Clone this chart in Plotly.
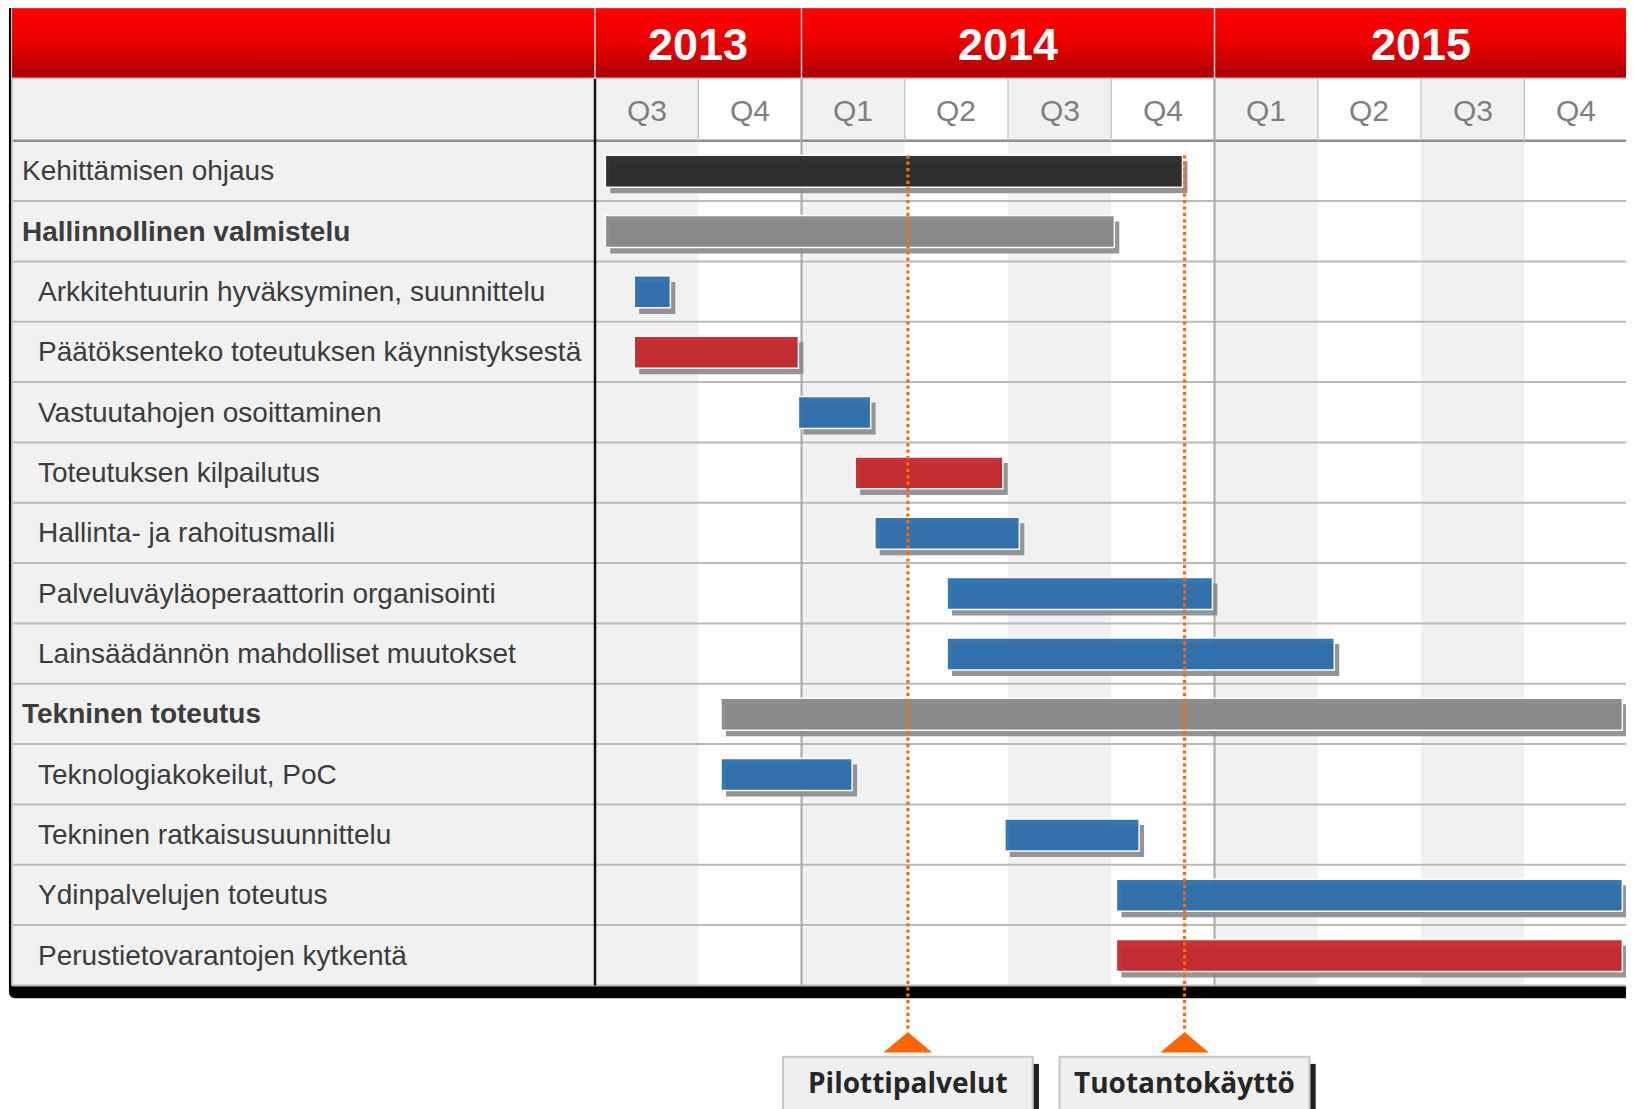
import plotly.graph_objects as go

# ---------------- data ----------------
tasks = [
    "Kehittämisen ohjaus",
    "Hallinnollinen valmistelu",
    "Arkkitehtuurin hyväksyminen, suunnittelu",
    "Päätöksenteko toteutuksen käynnistyksestä",
    "Vastuutahojen osoittaminen",
    "Toteutuksen kilpailutus",
    "Hallinta- ja rahoitusmalli",
    "Palveluväyläoperaattorin organisointi",
    "Lainsäädännön mahdolliset muutokset",
    "Tekninen toteutus",
    "Teknologiakokeilut, PoC",
    "Tekninen ratkaisusuunnittelu",
    "Ydinpalvelujen toteutus",
    "Perustietovarantojen kytkentä",
]
task_level = ["main", "group", "sub", "sub", "sub", "sub", "sub", "sub", "sub",
              "group", "sub", "sub", "sub", "sub"]
task_kind = ["steering", "phase", "work", "decision", "work", "decision", "work",
             "work", "work", "phase", "work", "work", "work", "decision"]
# start / end measured in quarters from the start of Q3 2013
task_start = [0.10, 0.10, 0.38, 0.38, 1.97, 2.52, 2.71, 3.41, 3.41, 1.22, 1.22, 3.97, 5.05, 5.05]
task_end = [5.69, 5.03, 0.73, 1.97, 2.67, 3.95, 4.11, 5.98, 7.16, 9.95, 2.49, 5.27, 9.95, 9.95]

years = ["2013", "2014", "2015"]
year_quarters = [2, 4, 4]
quarters = ["Q3", "Q4", "Q1", "Q2", "Q3", "Q4", "Q1", "Q2", "Q3", "Q4"]

milestones = ["Pilottipalvelut", "Tuotantokäyttö"]
milestone_at = [3.03, 5.71]

# ---------------- style ----------------
KIND_COLOR = {"steering": "#2a2a2a", "phase": "#898989",
              "work": "#2c6fad", "decision": "#c4282b"}
SANS = "Liberation Sans, Arial, sans-serif"
BOXFONT = "Open Sans, Liberation Sans, sans-serif"
LABEL_COLOR = "#3c3c3c"

n = len(tasks)
NQ = len(quarters)
LEFT = -5.646
HDR_TOP = -2.194
Q_TOP = -1.036
BAR_W = 0.53
SH_DX, SH_DY = 0.048, 0.10

# page is offset by the 8px body margin: map page pixels to data units
QPX, RPX = 103.25, 60.34      # pixels per quarter / per row
X0PX, Y0PX = 595.0, 140.7     # page pixel of quarter 0 / row 0
FIG_W, FIG_H = 1626, 1101
xr = [(8 - X0PX) / QPX, (8 + FIG_W - X0PX) / QPX]
yr = [(8 + FIG_H - Y0PX) / RPX, (8 - Y0PX) / RPX]

shapes = []


def rect(x0, x1, y0, y1, fill, line=None, lw=0, layer="below"):
    shapes.append(dict(type="rect", xref="x", yref="y", x0=x0, x1=x1, y0=y0, y1=y1,
                       fillcolor=fill, line=dict(color=line or fill, width=lw), layer=layer))


def line(x0, x1, y0, y1, color, w, layer="below", dash="solid"):
    shapes.append(dict(type="line", xref="x", yref="y", x0=x0, x1=x1, y0=y0, y1=y1,
                       line=dict(color=color, width=w, dash=dash), layer=layer))


# black drop-shadow frame with rounded corners
fx0, fx1, fy0, fy1 = -5.676, 10.4, -2.262, 14.21
rx, ry = 0.06, 0.11
shapes.append(dict(
    type="path", xref="x", yref="y", layer="below", fillcolor="#000000",
    line=dict(color="#000000", width=0),
    path=(f"M {fx0+rx},{fy0} L {fx1},{fy0} L {fx1},{fy1} L {fx0+rx},{fy1} "
          f"Q {fx0},{fy1} {fx0},{fy1-ry} L {fx0},{fy0+ry} Q {fx0},{fy0} {fx0+rx},{fy0} Z")))

# table background
rect(LEFT, NQ, HDR_TOP, n, "#ffffff")
rect(LEFT, 0, Q_TOP, n, "#f1f1f1")
for q in range(0, NQ, 2):
    rect(q, q + 1, Q_TOP, n, "#f1f1f1")

# row lines
for k in range(1, n + 1):
    line(LEFT, NQ, k, k, "#bababa", 2)
line(LEFT, NQ, 0, 0, "#8f8f8f", 2.5)

# quarter separators in quarter row
for q in range(1, NQ):
    line(q, q, Q_TOP, 0, "#c8c8c8", 1.5)

# year boundaries
ystarts = []
acc = 0
for c in year_quarters:
    ystarts.append(acc)
    acc += c
for s in ystarts[1:]:
    line(s, s, Q_TOP, n, "#a8a8a8", 2)

# label divider and left edge
line(0, 0, Q_TOP, n, "#111111", 2.5)
line(LEFT, LEFT, HDR_TOP, n, "#c8c8c8", 2)

# header separators (above the gradient trace)
for s in ystarts:
    line(s, s, HDR_TOP, Q_TOP, "#d6d6d6", 1.5, layer="above")
line(LEFT, NQ, Q_TOP, Q_TOP, "#c4c4c4", 1.5, layer="above")

traces = []

# red gradient header
traces.append(go.Scatter(
    x=[LEFT, NQ, NQ, LEFT, LEFT], y=[HDR_TOP, HDR_TOP, Q_TOP, Q_TOP, HDR_TOP],
    mode="lines", fill="toself", line=dict(width=0, color="#e00000"),
    fillgradient=dict(type="vertical", start=HDR_TOP, stop=Q_TOP,
                      colorscale=[[0, "#ff0000"], [0.45, "#ee0000"], [1, "#ab0000"]]),
    hoverinfo="skip", showlegend=False))

# milestone dotted lines
TRI_TOP, TRI_BASE, TRI_HW = 14.77, 15.11, 0.235
for m in milestone_at:
    traces.append(go.Scatter(x=[m, m], y=[0.24, TRI_TOP], mode="lines",
                             line=dict(color="#ff6a00", width=3.2, dash="dot"),
                             hoverinfo="skip", showlegend=False))

dur = [e - s for s, e in zip(task_start, task_end)]
ypos = [i + 0.505 for i in range(n)]

# bar shadows
traces.append(go.Bar(
    orientation="h", y=[v + SH_DY for v in ypos], x=dur, base=[s + SH_DX for s in task_start],
    width=BAR_W, marker=dict(color="#8a8a8a", line=dict(width=0)), opacity=0.9,
    hoverinfo="skip", showlegend=False))

# bars
traces.append(go.Bar(
    orientation="h", y=ypos, x=dur, base=task_start, width=BAR_W,
    marker=dict(color=[KIND_COLOR[k] for k in task_kind], line=dict(color="#ffffff", width=1.5)),
    opacity=0.95, hoverinfo="skip", showlegend=False))

# milestone triangles
for m in milestone_at:
    traces.append(go.Scatter(x=[m - TRI_HW, m, m + TRI_HW, m - TRI_HW],
                             y=[TRI_BASE, TRI_TOP, TRI_BASE, TRI_BASE],
                             mode="lines", fill="toself", fillcolor="#ff6600",
                             line=dict(width=0, color="#ff6600"),
                             hoverinfo="skip", showlegend=False))

# milestone boxes
BOX_HW, BOX_TOP, BOX_BOT = 1.21, 15.18, 16.4
for m in milestone_at:
    rect(m + BOX_HW, m + BOX_HW + 0.06, BOX_TOP + 0.12, BOX_BOT, "#1e1e1e", layer="above")
    rect(m - BOX_HW, m + BOX_HW, BOX_TOP, BOX_BOT, "#efefef", line="#c6c6c6", lw=2, layer="above")

annotations = []
for i, t in enumerate(tasks):
    lvl = task_level[i]
    annotations.append(dict(
        x=-5.57 if lvl in ("main", "group") else -5.41, y=i + 0.5, xref="x", yref="y",
        text=f"<b>{t}</b>" if lvl == "group" else t, showarrow=False,
        xanchor="left", yanchor="middle",
        font=dict(family=SANS, size=28, color=LABEL_COLOR)))

for yrl, s, c in zip(years, ystarts, year_quarters):
    annotations.append(dict(
        x=s + c / 2, y=(HDR_TOP + Q_TOP) / 2 + 0.02, xref="x", yref="y", text=f"<b>{yrl}</b>",
        showarrow=False, xanchor="center", yanchor="middle",
        font=dict(family=SANS, size=45, color="#ffffff")))

for q, lab in enumerate(quarters):
    annotations.append(dict(
        x=q + 0.5, y=Q_TOP / 2 + 0.02, xref="x", yref="y", text=lab, showarrow=False,
        xanchor="center", yanchor="middle",
        font=dict(family=SANS, size=30, color="#7f7f7f")))

for name, m in zip(milestones, milestone_at):
    annotations.append(dict(
        x=m, y=15.6, xref="x", yref="y", text=f"<b>{name}</b>", showarrow=False,
        xanchor="center", yanchor="middle",
        font=dict(family=BOXFONT, size=28, color="#262626")))

fig = go.Figure(data=traces)
fig.update_layout(
    width=FIG_W, height=FIG_H, margin=dict(l=0, r=0, t=0, b=0),
    paper_bgcolor="#ffffff", plot_bgcolor="#ffffff",
    barmode="overlay", showlegend=False,
    xaxis=dict(range=xr, visible=False, fixedrange=True),
    yaxis=dict(range=yr, visible=False, fixedrange=True),
    shapes=shapes, annotations=annotations,
)
fig.write_html("out.html", config={"displayModeBar": False, "staticPlot": True})
